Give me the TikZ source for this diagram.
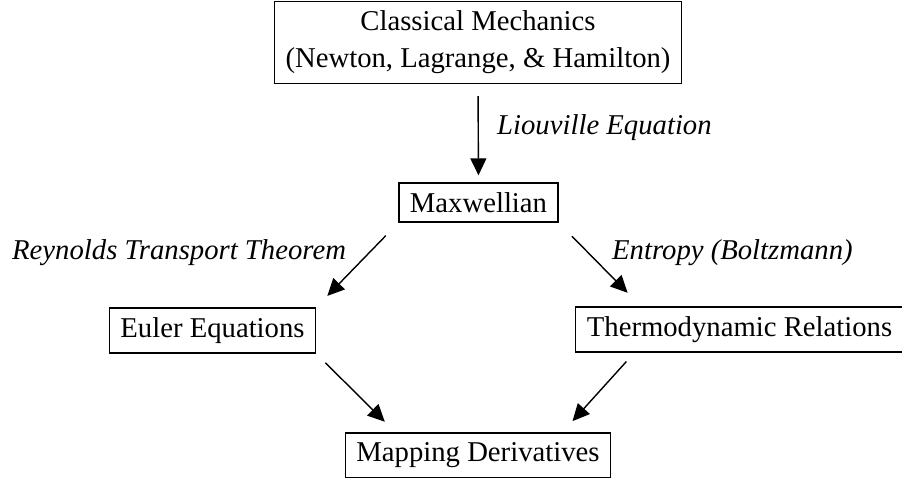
\documentclass[tikz,border=0pt]{standalone}
\usepackage{fontspec}
\setmainfont{Liberation Serif}
\usepackage{tikz}
\usetikzlibrary{positioning,arrows.meta,calc}
\tikzset{
    box/.style={draw=black, line width=1.2pt, inner xsep=11pt, inner ysep=9.5pt, align=center, font=\fontsize{28.7}{37}\selectfont},
    lbl/.style={inner sep=0pt, font=\fontsize{28.7}{37}\selectfont\itshape},
    arrow/.style={-{Triangle[length=17pt,width=16pt]}, line width=1.4pt, draw=black}
}
\begin{document}
\begin{tikzpicture}[x=1pt, y=-1pt]
\useasboundingbox (0,0) rectangle (902,479);
\node[box] (classical) at (478,42.5) {Classical Mechanics\\(Newton, Lagrange, \& Hamilton)};
\node[box] (maxwell) at (478.5,202.5) {Maxwellian};
\node[box] (euler) at (212.5,330.5) {Euler Equations};
\node[box] (thermo) at (739.5,329.5) {Thermodynamic Relations};
\node[box] (mapping) at (478,455) {Mapping Derivatives};
\node[lbl, anchor=west] (liouville) at (497,128) {Liouville Equation};
\node[lbl, anchor=west] (reynolds) at (12,253) {Reynolds Transport Theorem};
\node[lbl, anchor=west] (entropy) at (612,253) {Entropy (Boltzmann)};
\draw[arrow, shorten <=12pt, shorten >=7pt] (classical.south) -- (maxwell.north);
\draw[arrow, shorten <=18pt, shorten >=16pt] (maxwell.south west) -- (euler.north east);
\draw[arrow, shorten <=19pt, shorten >=19pt] (maxwell.south east) -- ($(thermo.north west)!0.2!(thermo.north east)$);
\draw[arrow, shorten <=13pt, shorten >=15pt] (euler.south east) -- ($(mapping.north west)!0.19!(mapping.north east)$);
\draw[arrow, shorten <=12pt, shorten >=15pt] ($(thermo.south west)!0.18!(thermo.south east)$) -- ($(mapping.north west)!0.817!(mapping.north east)$);
\end{tikzpicture}
\end{document}
